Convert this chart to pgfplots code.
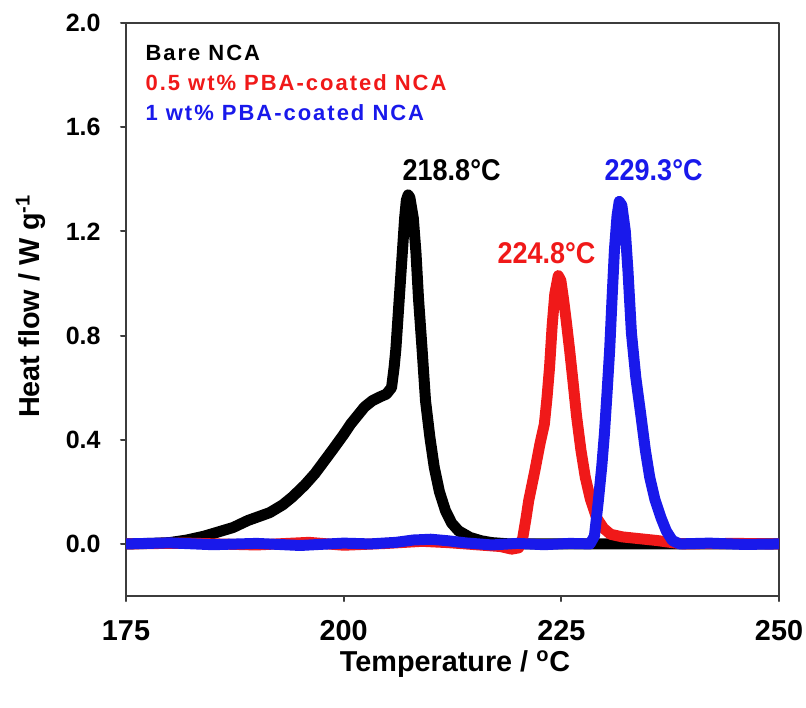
\documentclass[border=0pt]{standalone}
\usepackage{fontspec}
\setmainfont{Liberation Sans}
\newfontfamily\narrowfont{Liberation Sans}[FakeStretch=0.9]
\newfontfamily\legfont{Liberation Sans}[LetterSpace=9]
\usepackage{pgfplots}
\pgfplotsset{compat=1.18}
\definecolor{myred}{RGB}{240,25,25}
\definecolor{myblue}{RGB}{25,25,235}
\definecolor{axgray}{RGB}{60,60,60}

\begin{document}
\begin{tikzpicture}
\begin{axis}[
name=ax,
scale only axis,
width=326.5pt, height=286.5pt,
xmin=175, xmax=250, ymin=-0.2, ymax=2.0,
xtick={175,200,225,250},
ytick={0,0.4,0.8,1.2,1.6,2.0},
tick align=outside, tick pos=left,
major tick length=2.5pt,
axis line style={line width=1pt, axgray},
every tick/.style={axgray, line width=1pt},
/pgf/number format/assume math mode=true,
x tick label style={font=\fontsize{14.4}{14.4}\selectfont\bfseries, inner sep=0pt, yshift=-9.5pt},
y tick label style={font=\fontsize{12.5}{12.5}\selectfont\bfseries, inner sep=0pt, xshift=-10pt,
  /pgf/number format/fixed, /pgf/number format/fixed zerofill, /pgf/number format/precision=1},
xlabel={Temperature / \textsuperscript{o}C},
ylabel={Heat flow / W g\textsuperscript{-1}},
label style={font=\fontsize{14.4}{14.4}\selectfont\bfseries},
xlabel style={at={(axis description cs:0.504,-0.1326)}, anchor=base},
ylabel style={at={(axis description cs:-0.1317,0.506)}, anchor=base},
line join=round, line cap=round,
]
% bare NCA
\addplot[black, line width=5.5pt] coordinates {
(175,0)(178,0.002)(180,0.005)(182,0.015)(184,0.03)(186,0.05)(187.3,0.063)(189,0.09)
(191.5,0.12)(193,0.15)(194.1,0.18)(195.5,0.225)(196.7,0.27)(198.7,0.36)(200,0.42)
(200.8,0.46)(202.4,0.526)(203.3,0.55)(204.2,0.565)(204.9,0.575)(205.5,0.60)(205.8,0.68)
(206.0,0.75)(206.5,1.00)(207.0,1.25)(207.2,1.32)(207.4,1.34)(207.6,1.33)(208.0,1.25)
(208.3,1.12)(208.6,0.94)(209.0,0.75)(209.4,0.55)(209.9,0.41)(210.4,0.295)(211.0,0.2)
(211.7,0.127)(212.4,0.08)(213.2,0.05)(214.5,0.025)(215.8,0.012)(217,0.005)(219,0)(250,0)
};
% 0.5 wt%
\addplot[myred, line width=5.5pt] coordinates {
(175,0)(182,0.003)(190,-0.004)(196,0.006)(200,-0.005)(205,0.002)(209,0.01)(212,0.005)
(216,-0.005)(218,-0.01)(219.3,-0.02)(220.1,-0.015)(220.55,0.02)(220.95,0.1)(221.25,0.166)
(221.95,0.28)(222.55,0.385)(223.05,0.46)(223.35,0.56)(223.65,0.68)(223.95,0.84)(224.25,0.96)
(224.65,1.03)(224.95,1.01)(225.25,0.94)(225.55,0.86)(225.95,0.745)(226.35,0.62)(226.75,0.49)
(227.25,0.36)(227.75,0.256)(228.35,0.17)(229.05,0.10)(229.85,0.06)(230.65,0.037)(232,0.027)
(234,0.02)(236,0.013)(237.5,0.006)(239,0)(245,0.002)(250,0)
};
% 1 wt%
\addplot[myblue, line width=5.5pt] coordinates {
(175,0)(180,0.004)(185,-0.003)(190,0.002)(195,-0.006)(200,0.003)(203,0)(206,0.006)
(208,0.015)(210,0.018)(212,0.012)(214,0.004)(217,-0.004)(220,0.002)(223,-0.003)(226,0.002)
(228.3,0)(228.8,0.03)(229.25,0.166)(229.65,0.3)(229.95,0.424)(230.25,0.58)(230.55,0.745)
(230.85,0.96)(231.1,1.13)(231.4,1.26)(231.65,1.315)(231.95,1.30)(232.35,1.20)(232.65,1.05)
(233.05,0.81)(233.55,0.64)(234.15,0.49)(234.65,0.36)(235.15,0.256)(235.75,0.17)(236.45,0.10)
(237.05,0.05)(237.75,0.013)(238.6,0)(242,0.003)(246,-0.002)(250,0)
};
\node[anchor=north west, align=left, inner sep=0pt, font=\fontsize{11}{15}\legfont\bfseries]
  at (axis cs:177.2,1.915) {Bare NCA\\\textcolor{myred}{0.5 wt\% PBA-coated NCA}\\\textcolor{myblue}{1 wt\% PBA-coated NCA}};
\node[font=\fontsize{15}{15}\narrowfont\bfseries] at (axis cs:212.4,1.434) {218.8°C};
\node[font=\fontsize{15}{15}\narrowfont\bfseries, text=myred] at (axis cs:223.3,1.116) {224.8°C};
\node[font=\fontsize{15}{15}\narrowfont\bfseries, text=myblue] at (axis cs:235.6,1.434) {229.3°C};
\end{axis}
\pgfresetboundingbox
\path[use as bounding box] ([shift={(-63pt,-55.5pt)}]ax.south west) rectangle ([shift={(13.5pt,11.5pt)}]ax.north east);
\end{tikzpicture}
\end{document}
